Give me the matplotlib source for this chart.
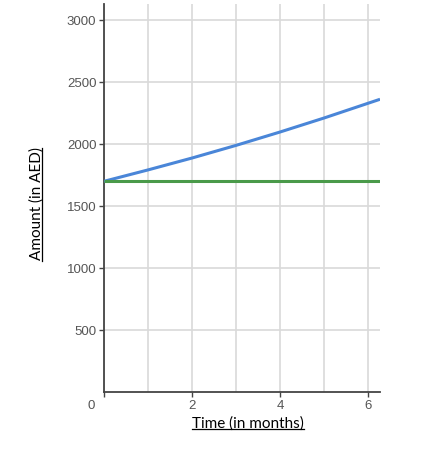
import matplotlib
matplotlib.use("Agg")
import matplotlib.pyplot as plt
from matplotlib.lines import Line2D

# values
months = [0, 1, 2, 3, 4, 5, 6, 6.27]
compound = [1700, 1792, 1888, 1990, 2098, 2211, 2330, 2362]
simple = [1700, 1700, 1700, 1700, 1700, 1700, 1700, 1700]
y_ticks = [500, 1000, 1500, 2000, 2500, 3000]
x_ticks = [2, 4, 6]

plt.rcParams['font.family'] = ['Liberation Sans', 'DejaVu Sans']

fig = plt.figure(figsize=(4.27, 4.55), dpi=100)
ax = fig.add_axes([0.2436, 0.1385, 0.6464, 0.8525])

ax.plot(months, compound, color='#4a86d8', lw=2.2, solid_capstyle='butt', zorder=3)
ax.plot(months, simple, color='#4a9a4a', lw=2.2, solid_capstyle='butt', zorder=3)

ax.set_xlim(0, 6.27)
ax.set_ylim(0, 3130)

ax.set_xticks(range(0, 7))
ax.set_xticklabels([str(m) if m in x_ticks else '' for m in range(0, 7)])
ax.set_yticks(y_ticks)
ax.set_yticklabels([str(v) for v in y_ticks])
ax.grid(True, color='#d9d9d9', lw=1.2)
ax.set_axisbelow(True)

for s in ['top', 'right']:
    ax.spines[s].set_visible(False)
for s in ['left', 'bottom']:
    ax.spines[s].set_color('#444444')
    ax.spines[s].set_linewidth(1.3)

ax.tick_params(axis='both', colors='#444444', labelcolor='#555555', labelsize=9.5,
               length=3.5, width=1)
ax.tick_params(axis='x', pad=2)
ax.tick_params(axis='y', pad=2)
# hide tick marks at odd months
for i, t in enumerate(ax.xaxis.get_major_ticks()):
    if i % 2 == 1:
        t.tick1line.set_visible(False)

ax.annotate('0', xy=(0, 0), xytext=(-9, -6), textcoords='offset points',
            ha='center', va='top', fontsize=9.5, color='#555555',
            annotation_clip=False)

xl = fig.text(248 / 427, 1 - 424 / 455, 'Time (in months)', ha='center', va='center',
              fontsize=11, family=['Lato', 'DejaVu Sans'], color='black')
yl = fig.text(37 / 427, 1 - 204 / 455, 'Amount (in AED)', ha='center', va='center',
              rotation=90, fontsize=11, family=['Lato', 'DejaVu Sans'], color='black')

# underline the axis titles
fig.canvas.draw()
r = fig.canvas.get_renderer()
inv = fig.transFigure.inverted()
bb = xl.get_window_extent(r).transformed(inv)
uy = bb.y0 + 2.0 / 455
fig.add_artist(Line2D([bb.x0, bb.x1], [uy, uy], color='black', lw=0.9))
bb = yl.get_window_extent(r).transformed(inv)
ux = bb.x1 - 2.0 / 427
fig.add_artist(Line2D([ux, ux], [bb.y0, bb.y1], color='black', lw=0.9))

fig.savefig('out.png', dpi=100)
